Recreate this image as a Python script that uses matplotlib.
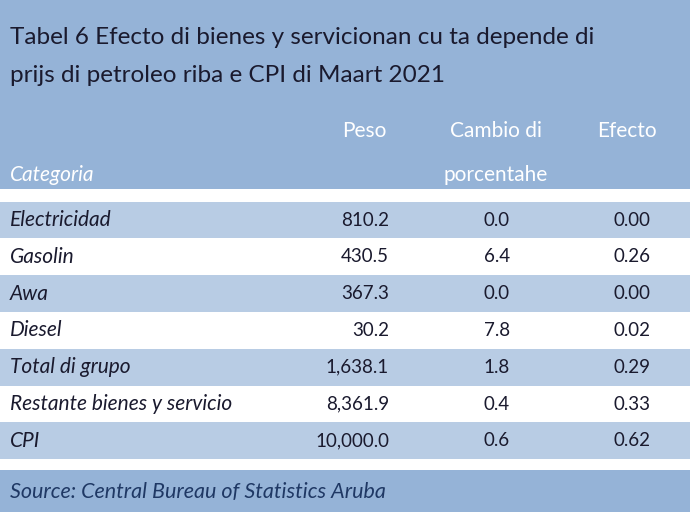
import matplotlib
matplotlib.use("Agg")
import matplotlib.pyplot as plt
from matplotlib.patches import Rectangle

title_lines = ["Tabel 6 Efecto di bienes y servicionan cu ta depende di",
               "prijs di petroleo riba e CPI di Maart 2021"]
categories = ["Electricidad", "Gasolin", "Awa", "Diesel", "Total di grupo",
              "Restante bienes y servicio", "CPI"]
peso = ["810.2", "430.5", "367.3", "30.2", "1,638.1", "8,361.9", "10,000.0"]
cambio = ["0.0", "6.4", "0.0", "7.8", "1.8", "0.4", "0.6"]
efecto = ["0.00", "0.26", "0.00", "0.02", "0.29", "0.33", "0.62"]
source = "Source: Central Bureau of Statistics Aruba"

BG = "#95b3d7"; BAND = "#b8cce4"; DARK = "#1a1a2e"; FONT = "Lato"

fig = plt.figure(figsize=(6.9, 5.12), dpi=100)
fig.patch.set_facecolor(BG)
ax = fig.add_axes([0, 0, 1, 1])
ax.set_xlim(0, 690); ax.set_ylim(512, 0); ax.axis("off")

ax.text(10, 37, title_lines[0], fontsize=17.5, color=DARK, family=FONT, va="center")
ax.text(10, 75, title_lines[1], fontsize=17.5, color=DARK, family=FONT, va="center")

HS = 15
ax.text(364, 131, "Peso", fontsize=HS, color="white", family=FONT, ha="center", va="center")
ax.text(496, 131, "Cambio di", fontsize=HS, color="white", family=FONT, ha="center", va="center")
ax.text(496, 175, "porcentahe", fontsize=HS, color="white", family=FONT, ha="center", va="center")
ax.text(627, 131, "Efecto", fontsize=HS, color="white", family=FONT, ha="center", va="center")
ax.text(10, 175, "Categoria", fontsize=HS, color="white", family=FONT, style="italic", va="center")

step = 36.8; top = 201.6
ax.add_patch(Rectangle((0, 189), 690, top - 189, color="white", lw=0))
for i, (c, p, cb, e) in enumerate(zip(categories, peso, cambio, efecto)):
    y0 = top + i * step
    ax.add_patch(Rectangle((0, y0), 690, step, color=BAND if i % 2 == 0 else "white", lw=0))
    yc = y0 + step / 2
    ax.text(10, yc, c, fontsize=15, color=DARK, family=FONT, style="italic", va="center")
    ax.text(389, yc, p, fontsize=13.5, color=DARK, family=FONT, ha="right", va="center")
    ax.text(510, yc, cb, fontsize=13.5, color=DARK, family=FONT, ha="right", va="center")
    ax.text(650, yc, e, fontsize=13.5, color=DARK, family=FONT, ha="right", va="center")
end = top + len(categories) * step
ax.add_patch(Rectangle((0, end), 690, 11, color="white", lw=0))

ax.text(10, 492, source, fontsize=15.5, color="#1f3864", family=FONT, style="italic", va="center")

fig.savefig("out.png", dpi=100, facecolor=BG)
